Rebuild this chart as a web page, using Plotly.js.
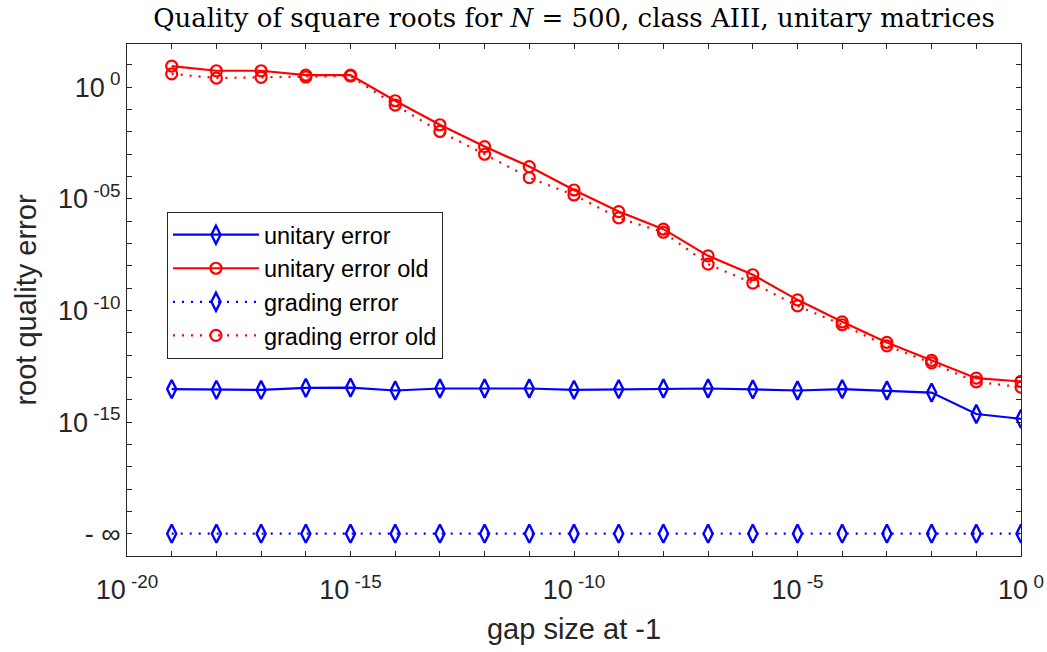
<!DOCTYPE html>
<html>
<head>
<meta charset="utf-8">
<script src="https://cdn.plot.ly/plotly-3.0.1.min.js"></script>
<style>html,body{margin:0;padding:0;background:#fff;}#chart{width:1047px;height:652px;}</style>
</head>
<body>
<div id="chart"></div>
<script>
// ---- data ----
const gapSize = [1e-19, 1e-18, 1e-17, 1e-16, 1e-15, 1e-14, 1e-13, 1e-12, 1e-11, 1e-10,
                 1e-9, 1e-8, 1e-7, 1e-6, 1e-5, 1e-4, 1e-3, 1e-2, 1e-1, 1e0];
const unitaryError = [3.0e-14, 2.8e-14, 2.75e-14, 3.4e-14, 3.5e-14, 2.6e-14, 3.2e-14, 3.2e-14, 3.2e-14, 2.8e-14,
                      3.0e-14, 3.2e-14, 3.2e-14, 2.9e-14, 2.6e-14, 3.0e-14, 2.6e-14, 2.1e-14, 2.3e-15, 1.4e-15];
const unitaryErrorOld = [8.9, 5.5, 5.5, 3.5, 3.5, 0.25, 0.021, 2.2e-3, 2.8e-4, 2.5e-5,
                         2.7e-6, 4.4e-7, 2.8e-8, 4.0e-9, 3.0e-10, 3.1e-11, 3.7e-12, 5.8e-13, 9.3e-14, 6.6e-14];
const gradingError = [0, 0, 0, 0, 0, 0, 0, 0, 0, 0, 0, 0, 0, 0, 0, 0, 0, 0, 0, 0]; // exact zero -> "-inf"
const gradingErrorOld = [4.0, 2.6, 2.8, 2.9, 3.2, 0.16, 0.0105, 1.0e-3, 8.9e-5, 1.5e-5,
                         1.4e-6, 3.2e-7, 1.2e-8, 1.7e-9, 1.6e-10, 2.3e-11, 2.6e-12, 4.5e-13, 6.3e-14, 3.7e-14];

const NEG_INF_POS = 1e-20; // where "-inf" is drawn on the y axis

const xTickVals = [1e-20,1e-19,1e-18,1e-17,1e-16,1e-15,1e-14,1e-13,1e-12,1e-11,1e-10,
                   1e-9,1e-8,1e-7,1e-6,1e-5,1e-4,1e-3,1e-2,1e-1,1e0];
const xTickText = ['10<sup> -20</sup>','','','','','10<sup> -15</sup>','','','','','10<sup> -10</sup>',
                   '','','','','10<sup> -5</sup>','','','','','10<sup> 0</sup>'];
const yTickVals = [1e-20,1e-19,1e-18,1e-17,1e-16,1e-15,1e-14,1e-13,1e-12,1e-11,1e-10,
                   1e-9,1e-8,1e-7,1e-6,1e-5,1e-4,1e-3,1e-2,1e-1,1e0,1e1];
const yTickText = ['- \u221E','','','','','10<sup> -15</sup>','','','','','10<sup> -10</sup>',
                   '','','','','10<sup> -05</sup>','','','','','10<sup> 0</sup>',''];

const toPlot = arr => arr.map(v => v > 0 ? v : NEG_INF_POS);

const BLUE = '#0000FF', RED = '#FF0000';
const DOT = '2px,7px';
const traces = [
  {name:'unitary error', x:gapSize, y:toPlot(unitaryError), mode:'lines+markers',
   line:{color:BLUE, width:2.2}, marker:{symbol:'diamond-tall-open', size:13, color:BLUE, line:{width:2.4, color:BLUE}}},
  {name:'unitary error old', x:gapSize, y:toPlot(unitaryErrorOld), mode:'lines+markers',
   line:{color:RED, width:2.2}, marker:{symbol:'circle-open', size:11, color:RED, line:{width:2.2, color:RED}}},
  {name:'grading error', x:gapSize, y:toPlot(gradingError), mode:'lines+markers',
   line:{color:BLUE, width:2.2, dash:DOT}, marker:{symbol:'diamond-tall-open', size:13, color:BLUE, line:{width:2.4, color:BLUE}}},
  {name:'grading error old', x:gapSize, y:toPlot(gradingErrorOld), mode:'lines+markers',
   line:{color:RED, width:2.2, dash:DOT}, marker:{symbol:'circle-open', size:11, color:RED, line:{width:2.2, color:RED}}}
];

const AX = '#262626';
const layout = {
  width:1047, height:652,
  margin:{l:127, r:26, t:44, b:96},
  paper_bgcolor:'#fff', plot_bgcolor:'#fff',
  font:{family:'Liberation Sans, Arial, sans-serif', color:AX},
  title:{text:'Quality of square roots for <i>N</i> = 500, class AIII, unitary matrices',
         font:{family:'DejaVu Serif, serif', size:26, color:'#000'},
         xref:'paper', x:0.5, xanchor:'center', yref:'container', y:0.972, yanchor:'middle'},
  xaxis:{type:'log', range:[-20, 0], tickmode:'array', tickvals:xTickVals, ticktext:xTickText,
         ticks:'inside', ticklen:5, tickwidth:1, tickcolor:AX, showline:true, linecolor:AX, linewidth:1,
         mirror:'ticks', showgrid:false, zeroline:false, tickfont:{size:27, color:AX}, ticklabelstandoff:10,
         title:{text:'gap size at -1', font:{size:29, color:AX}, standoff:14}},
  yaxis:{type:'log', range:[-21, 1.94], tickmode:'array', tickvals:yTickVals, ticktext:yTickText,
         ticks:'inside', ticklen:5, tickwidth:1, tickcolor:AX, showline:true, linecolor:AX, linewidth:1,
         mirror:'ticks', showgrid:false, zeroline:false, tickfont:{size:27, color:AX},
         title:{text:'root quality error', font:{size:29, color:AX}, standoff:12}},
  legend:{x:0.0447, y:0.672, xanchor:'left', yanchor:'top', bgcolor:'#fff', itemwidth:86,
          bordercolor:AX, borderwidth:1, font:{size:23.5, color:'#000'}},
  showlegend:true
};

Plotly.newPlot('chart', traces, layout, {displayModeBar:false, staticPlot:true});
</script>
</body>
</html>
